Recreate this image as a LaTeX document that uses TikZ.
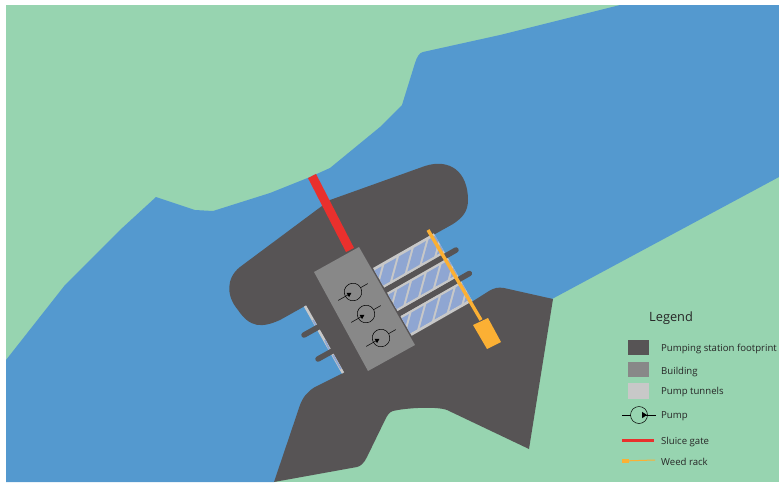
\documentclass[tikz,border=0pt]{standalone}
\usepackage{fontspec}
\setmainfont{Open Sans}
\definecolor{land}{HTML}{97D4B0}
\definecolor{water}{HTML}{5499CF}
\definecolor{station}{HTML}{575455}
\definecolor{bldg}{HTML}{888888}
\definecolor{tunnel}{HTML}{C8C8C8}
\definecolor{peri}{HTML}{8FA6D2}
\definecolor{gate}{HTML}{E9302D}
\definecolor{rack}{HTML}{FBB034}
\tikzset{
  wallbar/.style={draw=station,line width=5.5pt,line cap=round},
  legendtext/.style={anchor=west,inner sep=0pt,font=\fontsize{9.6}{11}\selectfont,text=black!85},
  pumpline/.style={draw=black,line width=.5pt},
}
\newcommand{\tunnelband}[2]{%
  \fill[tunnel] (0,#1) rectangle (70,#2);
  \begin{scope}
    \clip (0,{#1+2.8}) rectangle (70,{#2-2.8});
    \foreach \k in {-2,...,6}{
      \fill[peri] ({\k*17-6},{#2-2.8}) -- ({\k*17+8},{#2-2.8}) -- ({\k*17+8+#2-#1-5.6},{#1+2.8}) -- ({\k*17-6+#2-#1-5.6},{#1+2.8}) -- cycle;
    }
  \end{scope}
}
\newcommand{\pumpsym}[1]{%
  \begin{scope}[shift={#1},rotate=29.7]
    \draw[pumpline] (0,0) circle (8.8);
    \draw[pumpline] (-17,0) -- (-3,0);
    \draw[pumpline] (8.8,0) -- (17,0);
    \fill[black] (-6,-2.5) -- (-6,2.5) -- (-1.8,0) -- cycle;
  \end{scope}
}
\begin{document}
\begin{tikzpicture}[x=1pt,y=-1pt]
\useasboundingbox (0,0) rectangle (779,482);
\fill[white] (0,0) rectangle (779,482);
\fill[land] (6,5) rectangle (779,482);
% river
\fill[water] (6,360) -- (65,285) -- (120,230) -- (156,197) -- (195,210) -- (213,211) -- (270,193) -- (310,177) -- (330,168) -- (380,127) -- (402,105) -- (415,63) .. controls (417,57) and (419,53) .. (423,52) -- (500,35) -- (620,5) -- (779,5) -- (779,177) -- (552,299) -- (400,400) -- (300,450) -- (274,482) -- (6,482) -- cycle;
% footprint
\fill[station] (305,306) -- (280,320) .. controls (262,328) and (250,328) .. (238,310)
  .. controls (226,296) and (226,278) .. (240,267) -- (330,200) -- (425,166)
  .. controls (450,158) and (468,172) .. (468,200) .. controls (468,212) and (462,218) .. (453,224)
  -- (428,238) -- (470,303) -- (489,291) .. controls (494,288) and (498,287) .. (504,288) -- (553,299) -- (529,449) -- (447,410) .. controls (436,406) and (405,408) .. (393,411) .. controls (389,412) and (387,416) .. (385,420) -- (367,457) .. controls (364,463) and (361,466) .. (357,467) -- (274,482) -- (300,405) .. controls (303,397) and (308,391) .. (315,387) -- (343,373) -- cycle;
% tunnels
\begin{scope}[shift={(373,268)},rotate=29.7]
  \tunnelband{0}{23}
  \tunnelband{28}{50}
  \tunnelband{55}{78}
  \draw[wallbar] (-2,25.5) coordinate (wa) -- (81,25.5) coordinate (wb);
  \draw[wallbar] (-2,52.5) coordinate (wc) -- (81,52.5) coordinate (wd);
\end{scope}
% outlet strip
\draw[tunnel,line width=2.6pt] (305,306) -- (343,373);
\draw[peri,line width=1.6pt] (313,320) -- (318,329);
\draw[peri,line width=1.6pt] (325,340) -- (330,351);
\draw[peri,line width=1.6pt] (333,355) -- (341,369);
\draw[wallbar] (304,335) -- (322,325);
\draw[wallbar] (318,359) -- (336,349);
% building
\fill[bldg] (314,272) -- (359,247) -- (415,345) -- (368,371) -- cycle;
% sluice gate
\draw[gate,line width=9pt] (312,176) -- (350,250);
% weed rack
\draw[rack,line width=3.4pt] (428,230) -- (481,320);
\fill[rack] (473,325) -- (488,318) -- (501,342) -- (487,349) -- cycle;
% pumps
\pumpsym{(353,292)}
\pumpsym{(366,314)}
\pumpsym{(381,338)}
% legend
\node[anchor=west,inner sep=0pt,font=\fontsize{12.8}{14}\selectfont,text=black!85] (legendtitle) at (649,318) {Legend};
\fill[station] (628,340) rectangle (649,355);
\fill[bldg] (628,362) rectangle (649,377);
\fill[tunnel] (628,383) rectangle (649,399);
\draw[pumpline] (639,415) circle (8.5);
\draw[pumpline] (622,415) -- (630.5,415);
\draw[pumpline] (643,415) -- (656,415);
\fill[black] (642,411.8) -- (642,418.2) -- (647,415) -- cycle;
\draw[gate,line width=3pt] (622,440) -- (654,440);
\draw[rack,line width=1pt] (622,461) -- (655,460);
\fill[rack] (622,459) rectangle (629,463);
\node[legendtext] (t1) at (661,349) {Pumping station footprint};
\node[legendtext] (t2) at (661,372) {Building};
\node[legendtext] (t3) at (661,392) {Pump tunnels};
\node[legendtext] (t4) at (661,416) {Pump};
\node[legendtext] (t5) at (661,442) {Sluice gate};
\node[legendtext] (t6) at (661,462) {Weed rack};
\end{tikzpicture}
\end{document}
